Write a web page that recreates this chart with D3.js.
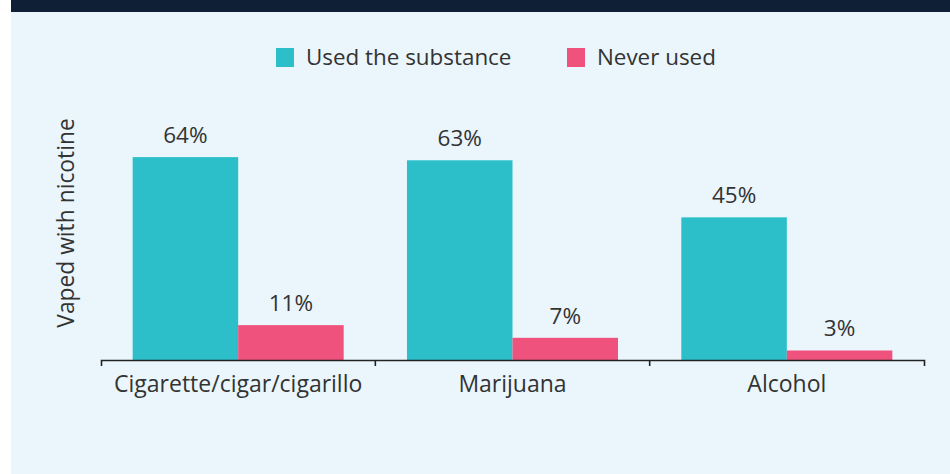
<!DOCTYPE html>
<html>
<head>
<meta charset="utf-8">
<script src="https://cdn.jsdelivr.net/npm/d3@7"></script>
<style>
  html, body { margin: 0; padding: 0; background: #ffffff; }
  svg { display: block; font-family: 'Open Sans', 'Noto Sans', sans-serif; }
</style>
</head>
<body>
<div id="container"></div>
<script>
const categories = ['Cigarette/cigar/cigarillo', 'Marijuana', 'Alcohol'];
const seriesNames = ['Used the substance', 'Never used'];
const usedValues = [64, 63, 45];
const neverValues = [11, 7, 3];
const seriesColors = ['#2cbfca', '#f0527e'];
const yLabel = 'Vaped with nicotine';

const W = 950, H = 474;
const margin = { top: 100, right: 26, bottom: 114, left: 101 };
const width = W - margin.left - margin.right;
const height = H - margin.top - margin.bottom;

const svg = d3.select('#container')
    .append('svg')
    .attr('width', W)
    .attr('height', H);

// panel background and dark header strip
svg.append('rect')
    .attr('x', 11).attr('y', 0)
    .attr('width', W - 11).attr('height', H)
    .attr('fill', '#eaf6fc');
svg.append('rect')
    .attr('x', 11).attr('y', 0)
    .attr('width', W - 11).attr('height', 12)
    .attr('fill', '#0f1f35');

const g = svg.append('g')
    .attr('transform', `translate(${margin.left}, ${margin.top})`);

const x0 = d3.scaleBand()
    .domain(categories)
    .range([0, width])
    .padding(0);

const x1 = d3.scaleBand()
    .domain(seriesNames)
    .range([0, x0.bandwidth()])
    .paddingInner(0)
    .paddingOuter(0.3);

const y = d3.scaleLinear()
    .domain([0, 70])
    .range([height, height - 70 * 3.17]);

const color = d3.scaleOrdinal(seriesNames, seriesColors);

const rows = categories.map((c, i) => ({
    category: c,
    values: [
        { key: seriesNames[0], value: usedValues[i] },
        { key: seriesNames[1], value: neverValues[i] }
    ]
}));

const groups = g.selectAll('.group')
    .data(rows)
    .join('g')
    .attr('class', 'group')
    .attr('transform', d => `translate(${x0(d.category)}, 0)`);

groups.selectAll('rect')
    .data(d => d.values)
    .join('rect')
    .attr('x', d => x1(d.key))
    .attr('y', d => y(d.value))
    .attr('width', x1.bandwidth())
    .attr('height', d => y(0) - y(d.value))
    .attr('fill', d => color(d.key));

groups.selectAll('text.val')
    .data(d => d.values)
    .join('text')
    .attr('class', 'val')
    .attr('x', d => x1(d.key) + x1.bandwidth() / 2)
    .attr('y', d => y(d.value) - 14)
    .attr('text-anchor', 'middle')
    .attr('font-size', 22.5)
    .attr('fill', '#333')
    .text(d => d.value + '%');

// x axis: labels centred, ticks on band edges
const xAxis = g.append('g')
    .attr('transform', `translate(0, ${height})`)
    .call(d3.axisBottom(x0).tickSize(0).tickSizeOuter(6).tickPadding(16));

xAxis.attr('font-family', null).attr('font-size', null);
xAxis.select('.domain')
    .attr('stroke', '#222')
    .attr('stroke-width', 1.6);
xAxis.selectAll('.tick text')
    .attr('font-size', 23)
    .attr('fill', '#333');

xAxis.selectAll('.edge')
    .data(categories.slice(1))
    .join('line')
    .attr('class', 'edge')
    .attr('x1', d => x0(d)).attr('x2', d => x0(d))
    .attr('y1', 0).attr('y2', 6)
    .attr('stroke', '#222')
    .attr('stroke-width', 1.6);

// y axis title
g.append('text')
    .attr('transform', `translate(-27, ${height / 2 - 7}) rotate(-90)`)
    .attr('text-anchor', 'middle')
    .attr('font-size', 22.8)
    .attr('fill', '#333')
    .text(yLabel);

// legend
const legendX = [276, 567];
const legend = svg.append('g')
    .selectAll('g')
    .data(seriesNames)
    .join('g')
    .attr('transform', (d, i) => `translate(${legendX[i]}, 48)`);

legend.append('rect')
    .attr('width', 18)
    .attr('height', 19)
    .attr('fill', d => color(d));

legend.append('text')
    .attr('x', 30)
    .attr('y', 17)
    .attr('font-size', 22.4)
    .attr('fill', '#333')
    .text(d => d);
</script>
</body>
</html>
